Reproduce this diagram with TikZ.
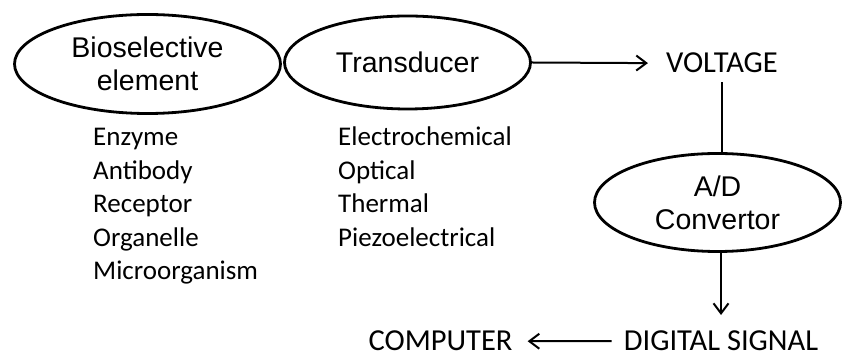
\documentclass[tikz,border=0pt]{standalone}
\usepackage{fontspec}
\setmainfont{Liberation Sans}
\newfontfamily\calibrifont{Carlito}
\usetikzlibrary{shapes.geometric,arrows.meta}

\tikzset{
  unit/.style={draw, ellipse, line width=2.8pt, align=center, inner sep=2pt,
    font=\fontsize{28.5}{33}\selectfont},
  signal/.style={inner sep=0pt, anchor=base, font=\calibrifont\fontsize{30.5}{36}\selectfont},
  item/.style={inner sep=0pt, anchor=base west, font=\calibrifont\fontsize{27}{33}\selectfont},
  flow/.style={line width=2pt},
  flowarrow/.style={flow, -{Straight Barb[length=10pt,width=15pt]}}
}

\begin{document}
\begin{tikzpicture}[x=1pt,y=1pt]
  \useasboundingbox (0,0) rectangle (843,358);

  % sensor parts
  \node[unit, minimum width=266pt, minimum height=99pt] (bio) at (147.5,294) {Bioselective\\element};
  \node[unit, minimum width=246pt, minimum height=93pt] (trans) at (407.5,295.5) {Transducer};
  \node[unit, minimum width=246pt, minimum height=98pt] (adc) at (717.5,155.5) {A/D\\Convertor};

  % signals
  \node[signal] (volt) at (722,285) {VOLTAGE};
  \node[signal] (digital) at (721,7) {DIGITAL SIGNAL};
  \node[signal] (computer) at (440.5,7) {COMPUTER};

  % examples under the parts
  \node[item] (enzyme) at (93,212) {Enzyme};
  \node[item] (antibody) at (93,178.5) {Antibody};
  \node[item] (receptor) at (93,145) {Receptor};
  \node[item] (organelle) at (93,111.5) {Organelle};
  \node[item] (microbe) at (93,78) {Microorganism};

  \node[item] (electro) at (338,212) {Electrochemical};
  \node[item] (optical) at (338,178.5) {Optical};
  \node[item] (thermal) at (338,145) {Thermal};
  \node[item] (piezo) at (338,111.5) {Piezoelectrical};

  % connectors
  \draw[flowarrow, shorten >=18pt] (trans.east) -- (volt.west);
  \draw[flow, shorten <=9pt] (volt.south) -- (volt.south |- adc.north);
  \draw[flowarrow, shorten >=16pt] (adc.south -| digital.north) -- (digital.north);
  \draw[flowarrow, shorten <=12pt, shorten >=15pt] (digital.west) -- (computer.east);
\end{tikzpicture}
\end{document}
